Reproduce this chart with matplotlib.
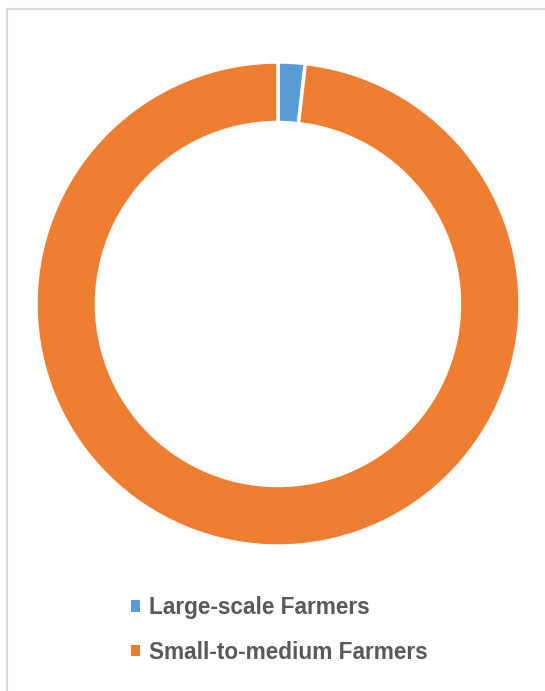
import matplotlib.pyplot as plt
from matplotlib.patches import Rectangle, Patch

# data
labels = ['Large-scale Farmers', 'Small-to-medium Farmers']
shares = [1.8, 98.2]
colors = ['#5B9BD5', '#ED7D31']

W, H = 545, 691
fig = plt.figure(figsize=(W / 100, H / 100), dpi=100)

# outer chart border (only top/left visible in the crop)
fig.patches.append(Rectangle((6.5 / W, -0.1), 1.2, (H - 8.5) / H + 0.1,
                             transform=fig.transFigure, fill=False,
                             edgecolor='#D9D9D9', linewidth=1.5))

# donut centred at (278, 304) px, outer radius 242 px
cx, cy, r = 278, 304, 242
ax = fig.add_axes([(cx - r) / W, (H - cy - r) / H, 2 * r / W, 2 * r / H])
wedges, _ = ax.pie(shares, colors=colors, startangle=90, counterclock=False,
                   radius=1, wedgeprops=dict(width=0.25, edgecolor='white',
                                             linewidth=2.5))
for w in wedges:
    w.set_clip_on(False)
ax.set_xlim(-1, 1)
ax.set_ylim(-1, 1)
ax.set_aspect('equal')
ax.axis('off')

# legend
handles = [Patch(facecolor=c, edgecolor='none') for c in colors]
leg = fig.legend(handles, labels, loc='upper left',
                 bbox_to_anchor=(131 / W, 1 - 596 / H), frameon=False,
                 borderpad=0, borderaxespad=0, handlelength=0.4,
                 handleheight=0.4, handletextpad=0.4, labelspacing=0.95,
                 prop=dict(family='Liberation Sans', weight='bold', size=16.3))
for t in leg.get_texts():
    t.set_color('#595959')

plt.savefig('out.png', dpi=100)
